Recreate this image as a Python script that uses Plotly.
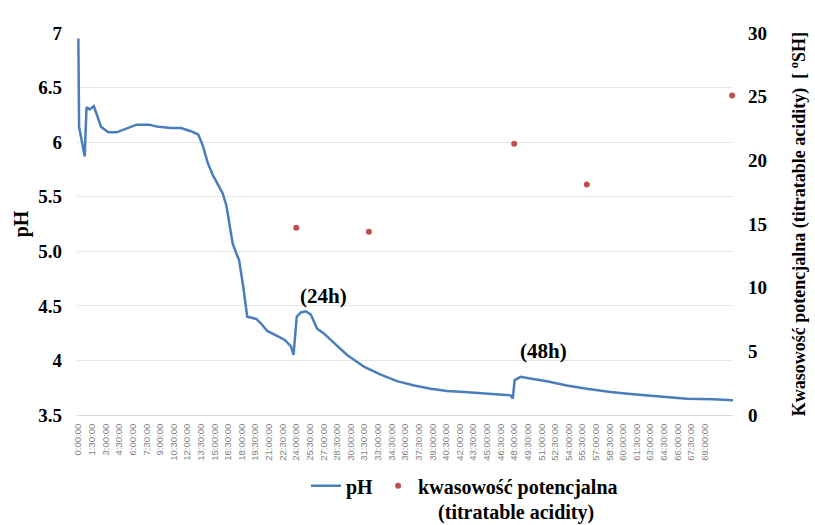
import plotly.graph_objects as go

# pH over time (hours)
ph_hours = [0, 0.08, 0.7, 0.9, 1.25, 1.7, 2.0, 2.5, 3.3, 4.2, 5.5, 6.4, 7.8, 8.8, 10.2, 11.3,
            12.4, 13.2, 13.7, 14.25, 14.8, 15.2, 15.9, 16.3, 16.6, 17.0, 17.4, 17.7, 18.1, 18.6,
            19.6, 20.1, 20.8, 21.8, 22.7, 23.4, 23.7, 24.05, 24.5, 25.05, 25.6, 26.3, 27.0, 28.3,
            29.6, 31.5, 33.3, 35.1, 37.0, 38.8, 40.6, 42.5, 44.3, 46.1, 47.6, 47.85, 48.05, 48.7,
            49.3, 50.1, 51.6, 53.8, 56.0, 58.6, 61.1, 64.1, 67.0, 69.9, 72.1]
ph_values = [6.95, 6.14, 5.87, 6.32, 6.30, 6.33, 6.26, 6.14, 6.09, 6.09, 6.13, 6.16, 6.16, 6.14,
             6.13, 6.13, 6.10, 6.07, 5.97, 5.81, 5.70, 5.64, 5.53, 5.42, 5.26, 5.07, 4.98, 4.92,
             4.71, 4.40, 4.38, 4.34, 4.27, 4.23, 4.19, 4.13, 4.05, 4.40, 4.44, 4.45, 4.42, 4.29,
             4.25, 4.15, 4.05, 3.94, 3.87, 3.81, 3.77, 3.74, 3.72, 3.71, 3.70, 3.69, 3.68, 3.65,
             3.82, 3.85, 3.84, 3.83, 3.81, 3.77, 3.74, 3.71, 3.69, 3.67, 3.65, 3.645, 3.635]

# titratable acidity (°SH)
acid_hours = [24, 32, 48, 56, 72]
acid_values = [14.7, 14.4, 21.3, 18.1, 25.1]

# x tick labels every 1.5 h
x_tick_hours = [i * 1.5 for i in range(47)]
x_tick_labels = [f"{int(h)}:{int(round((h % 1) * 60)):02d}:00" for h in x_tick_hours]

ph_tick_vals = [3.5, 4, 4.5, 5, 5.5, 6, 6.5, 7]
ph_tick_text = ["3.5", "4", "4.5", "5.0", "5.5", "6", "6.5", "7"]
acid_tick_vals = [0, 5, 10, 15, 20, 25, 30]

annot_x = [27.0, 51.2]
annot_y = [4.59, 4.09]
annot_text = ["(24h)", "(48h)"]

SERIF = "Liberation Serif"

fig = go.Figure()
fig.add_trace(go.Scatter(
    x=ph_hours, y=ph_values, mode="lines", name="<b>pH</b>",
    line=dict(color="#4A7EBB", width=2.5), yaxis="y",
))
fig.add_trace(go.Scatter(
    x=acid_hours, y=acid_values, mode="markers",
    name="<b>kwasowość potencjalna</b><br><b>" + "\u00a0" * 4 + "(titratable acidity)</b>",
    marker=dict(color="#C0504D", size=6), yaxis="y2", cliponaxis=False,
))

for ax, ay, t in zip(annot_x, annot_y, annot_text):
    fig.add_annotation(x=ax, y=ay, xref="x", yref="y", text="<b>" + t + "</b>", showarrow=False,
                       font=dict(family=SERIF, size=21, color="#000000"))

fig.update_layout(
    width=815, height=525,
    margin=dict(l=77, r=82, t=33, b=110, autoexpand=False),
    paper_bgcolor="white", plot_bgcolor="white",
    font=dict(family=SERIF, color="#000000"),
    xaxis=dict(
        range=[-0.15, 72.1], tickmode="array", tickvals=x_tick_hours, ticktext=x_tick_labels,
        tickangle=-90, tickfont=dict(family="Liberation Sans", size=9.5, color="#7f7f7f"),
        showgrid=False, zeroline=False, showline=True, linecolor="#d9d9d9", linewidth=1,
        ticks="", ticklabelstandoff=4, automargin=False,
    ),
    yaxis=dict(
        range=[3.5, 7], tickmode="array", tickvals=ph_tick_vals, ticktext=["<b>%s</b>" % t for t in ph_tick_text],
        tickfont=dict(family=SERIF, size=19, color="#000000"),
        showgrid=True, gridcolor="#e6e6e6", gridwidth=1, zeroline=False,
        title=dict(text="<b>pH</b>", font=dict(family=SERIF, size=20), standoff=4),
        ticklabelstandoff=14, automargin=False,
    ),
    yaxis2=dict(
        range=[0, 30], overlaying="y", side="right", tickmode="array", tickvals=acid_tick_vals,
        ticktext=["<b>%d</b>" % v for v in acid_tick_vals],
        tickfont=dict(family=SERIF, size=19, color="#000000"),
        showgrid=False, zeroline=False, ticklabelstandoff=14, automargin=False,
        title=dict(text="<b>Kwasowość potencjalna (titratable acidity)  [ <sup>o</sup>SH]</b>",
                   font=dict(family=SERIF, size=18), standoff=26),
    ),
    legend=dict(
        orientation="h", x=0.349, xanchor="left", y=-0.134, yanchor="top",
        font=dict(family=SERIF, size=20, color="#000000"), valign="top",
        bgcolor="rgba(0,0,0,0)",
    ),
    showlegend=True,
)

fig.write_html("out.html", config={"displayModeBar": False},
               post_script="document.body.style.margin='0px';")
